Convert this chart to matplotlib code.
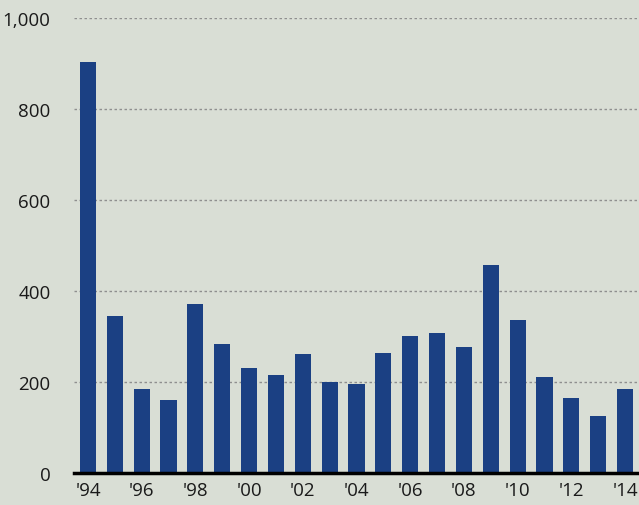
import matplotlib
matplotlib.use("Agg")
import matplotlib.pyplot as plt

years = list(range(1994, 2015))
values = [903, 345, 185, 160, 372, 283, 230, 215, 262, 200, 195,
          264, 301, 308, 277, 457, 336, 211, 165, 125, 185]
yticks = [0, 200, 400, 600, 800, 1000]
ytick_labels = ["0", "200", "400", "600", "800", "1,000"]

bg = "#d9ded5"
bar_color = "#1b4083"

plt.rcParams["font.family"] = ["Open Sans", "DejaVu Sans"]

fig = plt.figure(figsize=(6.39, 5.06), dpi=100, facecolor=bg)
ax = fig.add_axes([74 / 639, 32 / 506, 1 - 74 / 639, 455 / 506])
ax.set_facecolor(bg)

x = list(range(len(years)))
ax.bar(x, values, width=0.6, color=bar_color, zorder=3)

ax.set_xlim(-0.52, len(years) - 1 + 0.52)
ax.set_ylim(0, 1000)

for yv in yticks[1:]:
    ax.axhline(yv, color="#8f8f8f", linestyle=(0, (1.8, 1.8)), linewidth=1.0, zorder=1)
ax.axhline(0, color="black", linewidth=2.5, zorder=4, clip_on=False)

ax.set_yticks(yticks)
ax.set_yticklabels(ytick_labels, fontsize=13.5, color="#1a1a1a")
ax.set_xticks(x[::2])
ax.set_xticklabels(["'" + str(y)[2:] for y in years[::2]], fontsize=13.5, color="#1a1a1a")
ax.tick_params(axis="y", length=0, pad=17)
ax.tick_params(axis="x", length=0, pad=6)

for s in ax.spines.values():
    s.set_visible(False)

fig.savefig("out.png", dpi=100, facecolor=bg)
